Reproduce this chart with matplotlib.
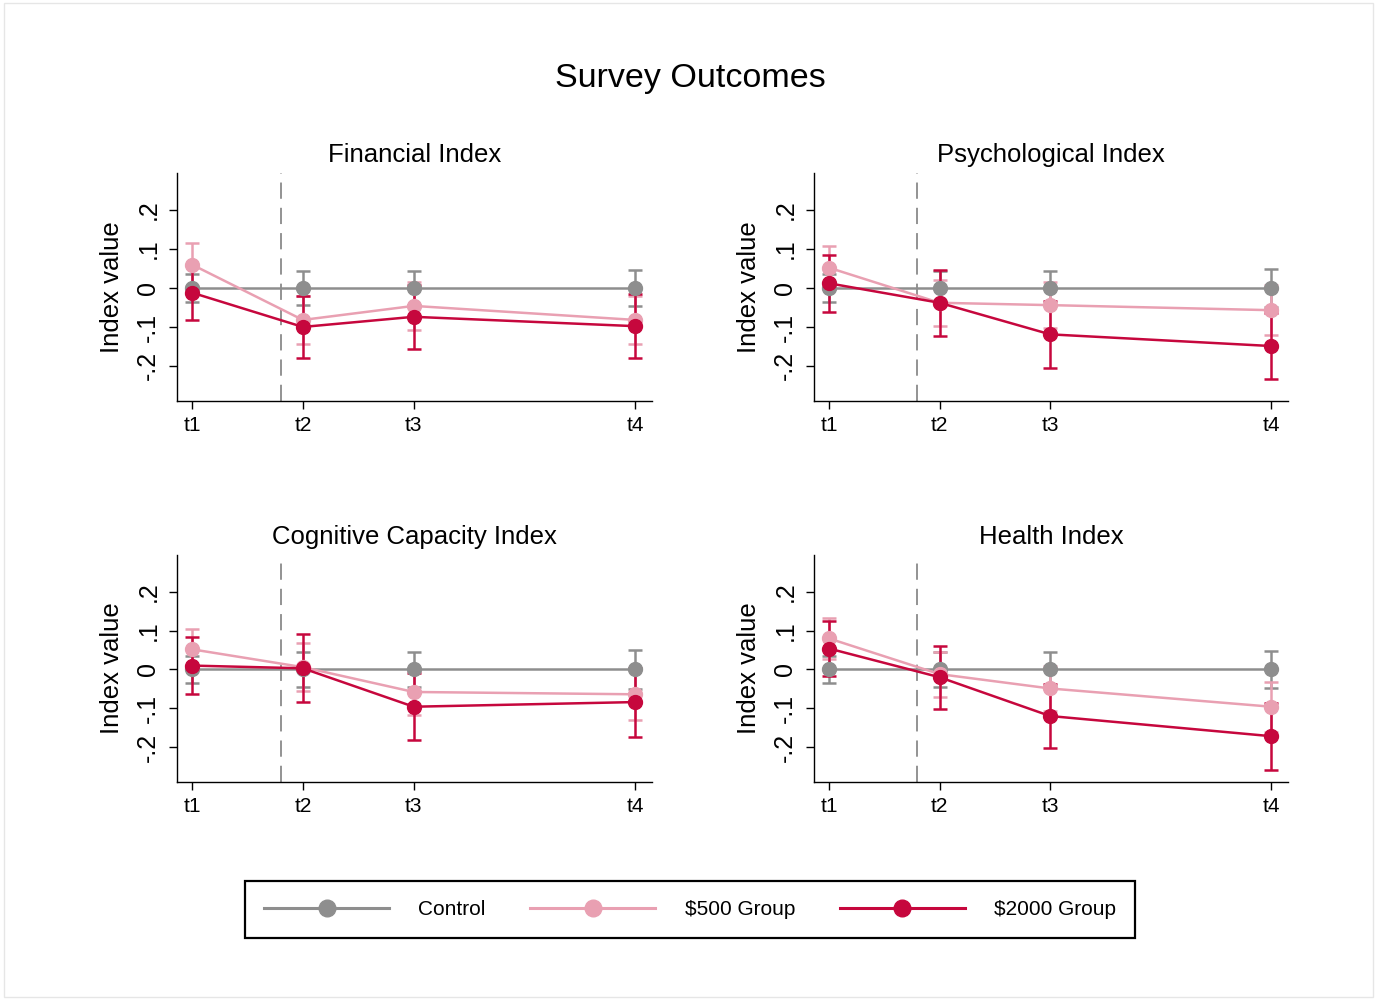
import numpy as np
import matplotlib
matplotlib.use("Agg")
import matplotlib.pyplot as plt
from matplotlib.patches import Rectangle

plt.rcParams['font.family'] = ['Liberation Sans', 'DejaVu Sans']

# survey waves (t4 sits further out in time)
waves = ['t1', 't2', 't3', 't4']
wave_pos = [1, 2, 3, 5]
treat_start = 1.8

panels = ['Financial Index', 'Psychological Index',
          'Cognitive Capacity Index', 'Health Index']

groups = ['Control', '$500 Group', '$2000 Group']
colors = ['#8e8e8e', '#e9a0b2', '#c6073d']

# point estimates per panel: control, $500, $2000
control_est = {
    'Financial Index':          [0, 0, 0, 0],
    'Psychological Index':      [0, 0, 0, 0],
    'Cognitive Capacity Index': [0, 0, 0, 0],
    'Health Index':             [0, 0, 0, 0],
}
control_ci = {
    'Financial Index':          [0.035, 0.044, 0.044, 0.047],
    'Psychological Index':      [0.035, 0.044, 0.044, 0.048],
    'Cognitive Capacity Index': [0.035, 0.045, 0.046, 0.050],
    'Health Index':             [0.035, 0.045, 0.046, 0.048],
}
g500_est = {
    'Financial Index':          [0.060, -0.082, -0.046, -0.082],
    'Psychological Index':      [0.052, -0.038, -0.044, -0.057],
    'Cognitive Capacity Index': [0.052, 0.006, -0.058, -0.064],
    'Health Index':             [0.080, -0.012, -0.049, -0.096],
}
g500_ci = {
    'Financial Index':          [0.055, 0.061, 0.061, 0.062],
    'Psychological Index':      [0.055, 0.059, 0.059, 0.064],
    'Cognitive Capacity Index': [0.052, 0.061, 0.060, 0.065],
    'Health Index':             [0.052, 0.058, 0.057, 0.064],
}
g2000_est = {
    'Financial Index':          [-0.012, -0.100, -0.074, -0.098],
    'Psychological Index':      [0.012, -0.038, -0.119, -0.149],
    'Cognitive Capacity Index': [0.010, 0.003, -0.096, -0.084],
    'Health Index':             [0.054, -0.020, -0.120, -0.172],
}
g2000_ci = {
    'Financial Index':          [0.070, 0.080, 0.082, 0.082],
    'Psychological Index':      [0.073, 0.085, 0.086, 0.085],
    'Cognitive Capacity Index': [0.074, 0.088, 0.087, 0.089],
    'Health Index':             [0.071, 0.081, 0.082, 0.086],
}

yticks = [-0.2, -0.1, 0, 0.1, 0.2]
ytick_labels = ['-.2', '-.1', '0', '.1', '.2']

W, H = 1377, 1000
fig = plt.figure(figsize=(W / 100, H / 100), dpi=100)
fig.patches.append(Rectangle((0.003, 0.003), 0.994, 0.994, transform=fig.transFigure,
                             fill=False, edgecolor='#e6e6e6', lw=1))

fig.text(690 / W, 1 - 78 / H, 'Survey Outcomes', ha='center', va='center', fontsize=24.5)

# axes boxes in pixels: left, right, top, bottom
boxes = [(177, 652, 173, 401), (814, 1288, 173, 401),
         (177, 652, 555, 782), (814, 1288, 555, 782)]

handles = []
for name, (l, r, t, b) in zip(panels, boxes):
    ax = fig.add_axes([l / W, 1 - b / H, (r - l) / W, (b - t) / H])
    series = [(control_est[name], control_ci[name]),
              (g500_est[name], g500_ci[name]),
              (g2000_est[name], g2000_ci[name])]
    ax.axvline(treat_start, color='#8a8a8a', lw=1.3, dashes=(9, 5), zorder=1)
    handles = []
    for (est, ci), col, lab in zip(series, colors, groups):
        ax.errorbar(wave_pos, est, yerr=ci, fmt='none', ecolor=col, elinewidth=1.8,
                    capsize=5, capthick=1.8, zorder=2)
        h, = ax.plot(wave_pos, est, '-o', color=col, lw=1.8, markersize=10, label=lab, zorder=3)
        handles.append(h)
    ax.set_xlim(0.865, 5.15)
    ax.set_ylim(-0.29, 0.295)
    ax.set_xticks(wave_pos)
    ax.set_xticklabels(waves, fontsize=15)
    ax.set_yticks(yticks)
    ax.set_yticklabels(ytick_labels, rotation=90, va='center', fontsize=18)
    ax.set_ylabel('Index value', fontsize=18.5, labelpad=9)
    ax.set_title(name, fontsize=18.5, pad=8)
    for s in ['top', 'right']:
        ax.spines[s].set_visible(False)
    for s in ['left', 'bottom']:
        ax.spines[s].set_linewidth(1.0)
    ax.tick_params(direction='out', length=6, width=1.0)
    ax.tick_params(axis='x', pad=5)
    ax.tick_params(axis='y', pad=6)

leg = fig.legend(handles, groups, loc='center', ncol=3, mode='expand',
                 bbox_to_anchor=(235 / W, 1 - 949 / H, 910 / W, 79 / H),
                 fontsize=15, handlelength=6.0, handletextpad=1.4,
                 borderpad=0.9, fancybox=False, edgecolor='black', framealpha=1,
                 markerscale=1.2)
leg.get_frame().set_linewidth(1.6)
for ln in leg.get_lines():
    ln.set_linewidth(2.2)

fig.savefig('out.png', dpi=100)
